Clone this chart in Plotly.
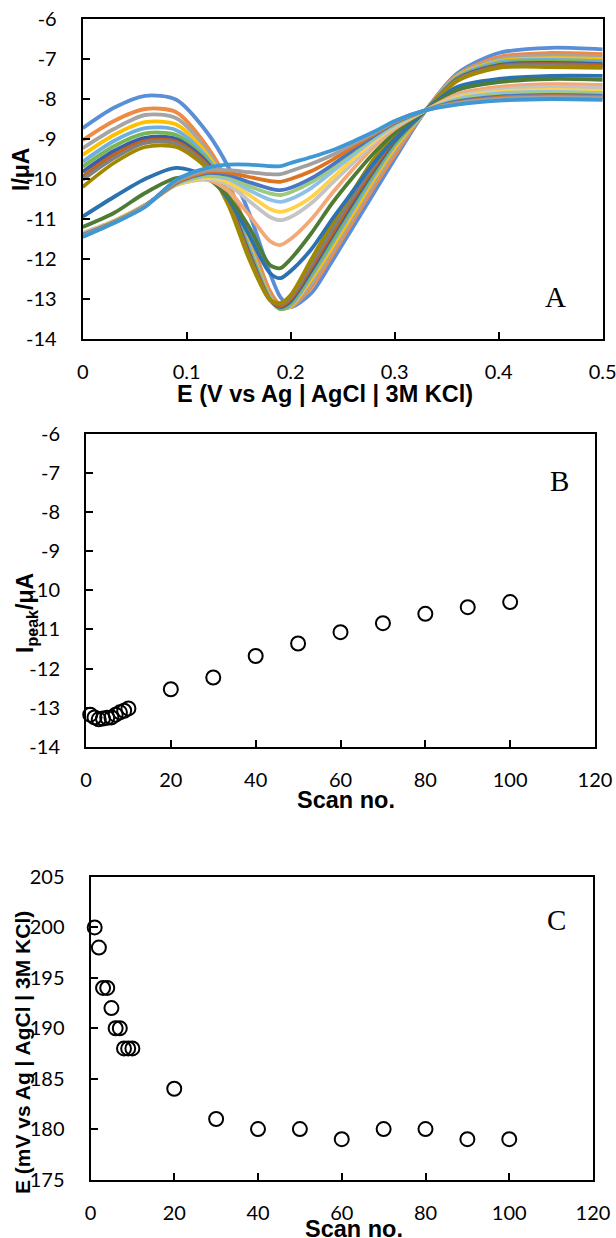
import plotly.graph_objects as go

# ---------------- Panel A data (potential grid, V) ----------------
E_A = [0, 0.03, 0.06, 0.09, 0.12, 0.14, 0.16, 0.18, 0.19, 0.20, 0.22, 0.24, 0.26, 0.28, 0.30, 0.33, 0.36, 0.40, 0.45, 0.50]

# early scans (1-10)
scan_01 = [-8.73, -8.22, -7.92, -8.02, -8.85, -9.70, -10.85, -12.35, -12.95, -13.20, -12.85, -12.05, -11.20, -10.35, -9.50, -8.28, -7.36, -6.85, -6.72, -6.76]
scan_02 = [-9.03, -8.55, -8.25, -8.33, -9.20, -10.10, -11.40, -12.80, -13.15, -13.20, -12.70, -11.90, -11.05, -10.20, -9.40, -8.28, -7.40, -6.95, -6.85, -6.88]
scan_03 = [-9.23, -8.75, -8.40, -8.48, -9.30, -10.20, -11.55, -12.90, -13.20, -13.20, -12.60, -11.80, -10.95, -10.10, -9.30, -8.28, -7.42, -7.00, -6.92, -6.95]
scan_04 = [-9.40, -8.90, -8.58, -8.64, -9.40, -10.30, -11.65, -12.95, -13.25, -13.18, -12.50, -11.70, -10.85, -10.00, -9.22, -8.28, -7.44, -7.05, -6.98, -7.00]
scan_05 = [-9.57, -9.05, -8.73, -8.78, -9.48, -10.38, -11.72, -12.98, -13.25, -13.15, -12.42, -11.60, -10.75, -9.92, -9.15, -8.28, -7.46, -7.08, -7.02, -7.05]
scan_06 = [-9.69, -9.18, -8.86, -8.90, -9.55, -10.45, -11.80, -13.00, -13.25, -13.10, -12.35, -11.52, -10.65, -9.85, -9.10, -8.28, -7.48, -7.12, -7.06, -7.10]
scan_07 = [-9.82, -9.30, -8.97, -9.00, -9.60, -10.50, -11.85, -13.02, -13.20, -13.05, -12.28, -11.42, -10.58, -9.78, -9.05, -8.28, -7.50, -7.15, -7.10, -7.13]
scan_08 = [-9.94, -9.40, -9.05, -9.07, -9.65, -10.55, -11.90, -13.02, -13.18, -13.00, -12.20, -11.35, -10.50, -9.72, -9.00, -8.28, -7.52, -7.18, -7.13, -7.16]
scan_09 = [-10.02, -9.48, -9.10, -9.12, -9.70, -10.60, -11.95, -13.02, -13.12, -12.95, -12.12, -11.25, -10.42, -9.65, -8.95, -8.28, -7.53, -7.20, -7.17, -7.20]
scan_10 = [-10.20, -9.60, -9.20, -9.20, -9.75, -10.65, -12.00, -13.02, -13.10, -12.90, -12.00, -11.10, -10.30, -9.50, -8.90, -8.28, -7.55, -7.22, -7.20, -7.22]
# later scans
scan_20 = [-10.94, -10.45, -10.00, -9.72, -9.95, -10.50, -11.40, -12.35, -12.48, -12.30, -11.75, -11.00, -10.30, -9.60, -9.00, -8.28, -7.70, -7.50, -7.42, -7.42]
scan_30 = [-11.20, -10.85, -10.35, -9.98, -10.00, -10.45, -11.20, -12.15, -12.23, -12.00, -11.35, -10.60, -9.95, -9.35, -8.85, -8.28, -7.78, -7.58, -7.50, -7.52]
scan_40 = [-11.35, -11.05, -10.65, -10.15, -10.02, -10.30, -10.90, -11.55, -11.65, -11.50, -11.00, -10.35, -9.75, -9.20, -8.75, -8.28, -7.88, -7.70, -7.63, -7.65]
scan_50 = [-11.35, -11.05, -10.65, -10.15, -10.00, -10.15, -10.55, -10.95, -11.03, -10.95, -10.60, -10.10, -9.60, -9.10, -8.70, -8.28, -7.93, -7.77, -7.70, -7.72]
scan_60 = [-11.38, -11.05, -10.65, -10.15, -9.97, -10.08, -10.40, -10.75, -10.82, -10.75, -10.45, -9.98, -9.50, -9.05, -8.67, -8.28, -7.97, -7.82, -7.77, -7.80]
scan_70 = [-11.38, -11.07, -10.66, -10.13, -9.93, -10.00, -10.28, -10.52, -10.57, -10.50, -10.22, -9.82, -9.40, -9.00, -8.65, -8.28, -8.00, -7.86, -7.82, -7.85]
scan_80 = [-11.40, -11.07, -10.66, -10.12, -9.90, -9.95, -10.18, -10.36, -10.40, -10.33, -10.08, -9.72, -9.33, -8.95, -8.62, -8.28, -8.03, -7.90, -7.86, -7.88]
scan_90 = [-11.40, -11.08, -10.67, -10.10, -9.85, -9.90, -10.08, -10.24, -10.28, -10.22, -9.98, -9.65, -9.28, -8.92, -8.60, -8.28, -8.06, -7.94, -7.90, -7.92]
scan_100 = [-11.42, -11.08, -10.67, -10.08, -9.82, -9.84, -9.95, -10.05, -10.07, -10.00, -9.80, -9.52, -9.20, -8.88, -8.58, -8.28, -8.09, -7.97, -7.93, -7.95]
scan_110 = [-11.43, -11.10, -10.68, -10.05, -9.78, -9.78, -9.83, -9.88, -9.88, -9.80, -9.62, -9.40, -9.12, -8.85, -8.56, -8.28, -8.11, -8.00, -7.96, -7.98]
scan_120 = [-11.45, -11.10, -10.70, -10.02, -9.72, -9.64, -9.64, -9.68, -9.68, -9.60, -9.45, -9.28, -9.06, -8.82, -8.55, -8.28, -8.14, -8.04, -8.00, -8.02]

curves_A = [scan_01, scan_02, scan_03, scan_04, scan_05, scan_06, scan_07, scan_08, scan_09, scan_10,
            scan_20, scan_30, scan_40, scan_50, scan_60, scan_70, scan_80, scan_90, scan_100, scan_110, scan_120]
colors_A = ['#5A8ED6', '#EF8A45', '#A5A5A5', '#FFC000', '#6FAEDF', '#79B552', '#3A5FA8', '#C46217', '#808080', '#A28800',
            '#2D72B0', '#4F7C35', '#F2A877', '#C4C4C4', '#FFD24A', '#8EC0E8', '#9CCB80', '#4A76C6', '#DD7420', '#A0A0A0', '#3F98D5']

# ---------------- Panel B / C data ----------------
scan_no = [1, 2, 3, 4, 5, 6, 7, 8, 9, 10, 20, 30, 40, 50, 60, 70, 80, 90, 100]
I_peak = [-13.18, -13.25, -13.30, -13.28, -13.26, -13.25, -13.18, -13.12, -13.08, -13.02,
          -12.53, -12.23, -11.68, -11.36, -11.07, -10.84, -10.60, -10.43, -10.30]
E_peak = [200, 198, 194, 194, 192, 190, 190, 188, 188, 188, 184, 181, 180, 180, 179, 180, 180, 179, 179]

A_xticks = [0, 0.1, 0.2, 0.3, 0.4, 0.5]
A_xtext = ['0', '0.1', '0.2', '0.3', '0.4', '0.5']
I_ticks = [-14, -13, -12, -11, -10, -9, -8, -7, -6]
I_text = ['-14', '-13', '-12', '-11', '-10', '-9', '-8', '-7', '-6']
scan_ticks = [0, 20, 40, 60, 80, 100, 120]
scan_text = ['0', '20', '40', '60', '80', '100', '120']
E_ticks = [175, 180, 185, 190, 195, 200, 205]
E_text = ['175', '180', '185', '190', '195', '200', '205']

W, H = 616, 1238
def px(x):
    return x / W
def py(y):
    return 1 - y / H

fig = go.Figure()
for vals, col in zip(curves_A, colors_A):
    fig.add_trace(go.Scatter(x=E_A, y=vals, mode='lines', xaxis='x', yaxis='y',
                             line=dict(color=col, width=3.8, shape='spline', smoothing=0.8),
                             showlegend=False, hoverinfo='skip'))

fig.add_trace(go.Scatter(x=scan_no, y=I_peak, mode='markers', xaxis='x2', yaxis='y2', cliponaxis=False,
                         marker=dict(symbol='circle-open', size=14, color='black', line=dict(width=2)),
                         showlegend=False, hoverinfo='skip'))
fig.add_trace(go.Scatter(x=scan_no, y=E_peak, mode='markers', xaxis='x3', yaxis='y3', cliponaxis=False,
                         marker=dict(symbol='circle-open', size=14, color='black', line=dict(width=2)),
                         showlegend=False, hoverinfo='skip'))

tickfont = dict(family='Lato', size=20, color='black')
common = dict(showline=True, mirror=True, linecolor='black', linewidth=2, ticks='inside', ticklen=7,
              tickwidth=2, tickcolor='black', showgrid=False, zeroline=False, tickfont=tickfont,
              automargin=False, ticklabeloverflow='allow')

fig.update_layout(
    width=W, height=H, margin=dict(l=0, r=0, t=0, b=0, autoexpand=False),
    paper_bgcolor='white', plot_bgcolor='white', showlegend=False,
    xaxis=dict(domain=[px(82.7), px(602.7)], range=[0, 0.5], anchor='y', tickvals=A_xticks, ticktext=A_xtext,
               ticklabelstandoff=14, **common),
    yaxis=dict(domain=[py(339), py(19)], range=[-14, -6], anchor='x', tickvals=I_ticks, ticktext=I_text,
               ticklabelstandoff=20, **common),
    xaxis2=dict(domain=[px(86), px(595)], range=[0, 120], anchor='y2', tickvals=scan_ticks, ticktext=scan_text,
                ticklabelstandoff=14, **common),
    yaxis2=dict(domain=[py(746.7), py(434)], range=[-14, -6], anchor='x2', tickvals=I_ticks, ticktext=I_text,
                ticklabelstandoff=20, **common),
    xaxis3=dict(domain=[px(90.5), px(593)], range=[0, 120], anchor='y3', tickvals=scan_ticks, ticktext=scan_text,
                ticklabelstandoff=14, **common),
    yaxis3=dict(domain=[py(1179.5), py(877)], range=[175, 205], anchor='x3', tickvals=E_ticks, ticktext=E_text,
                ticklabelstandoff=20, **common),
)

title_font = dict(family='Liberation Sans, Arial', size=23.5, color='black', weight='bold')
ytitle_font = dict(family='Liberation Sans, Arial', size=23, color='black', weight='bold')
letter_font = dict(family='Liberation Serif, Times New Roman', size=29, color='black')

annots = [
    dict(text='E (V vs Ag | AgCl | 3M KCl)', x=px(324.5), y=py(394), font=title_font, textangle=0),
    dict(text='Scan no.', x=px(345.5), y=py(800), font=title_font, textangle=0),
    dict(text='Scan no.', x=px(354), y=py(1229), font=title_font, textangle=0),
    dict(text='I/μA', x=px(21), y=py(170), font=ytitle_font, textangle=-90),
    dict(text='I<sub>peak</sub>/μA', x=px(26), y=py(613), font=ytitle_font, textangle=-90),
    dict(text='E (mV vs Ag | AgCl | 3M KCl)', x=px(22), y=py(1053), font=dict(ytitle_font, size=21), textangle=-90),
    dict(text='A', x=px(555), y=py(297), font=letter_font, textangle=0),
    dict(text='B', x=px(559), y=py(481), font=letter_font, textangle=0),
    dict(text='C', x=px(556), y=py(920), font=letter_font, textangle=0),
]
for a in annots:
    fig.add_annotation(xref='paper', yref='paper', showarrow=False, xanchor='center', yanchor='middle', **a)

fig.write_html('out.html',
               config={'displayModeBar': False, 'staticPlot': True},
               post_script="document.body.style.margin='0';document.body.style.padding='0';"
                           "document.body.style.overflow='hidden';"
                           "document.documentElement.style.overflow='hidden';")
